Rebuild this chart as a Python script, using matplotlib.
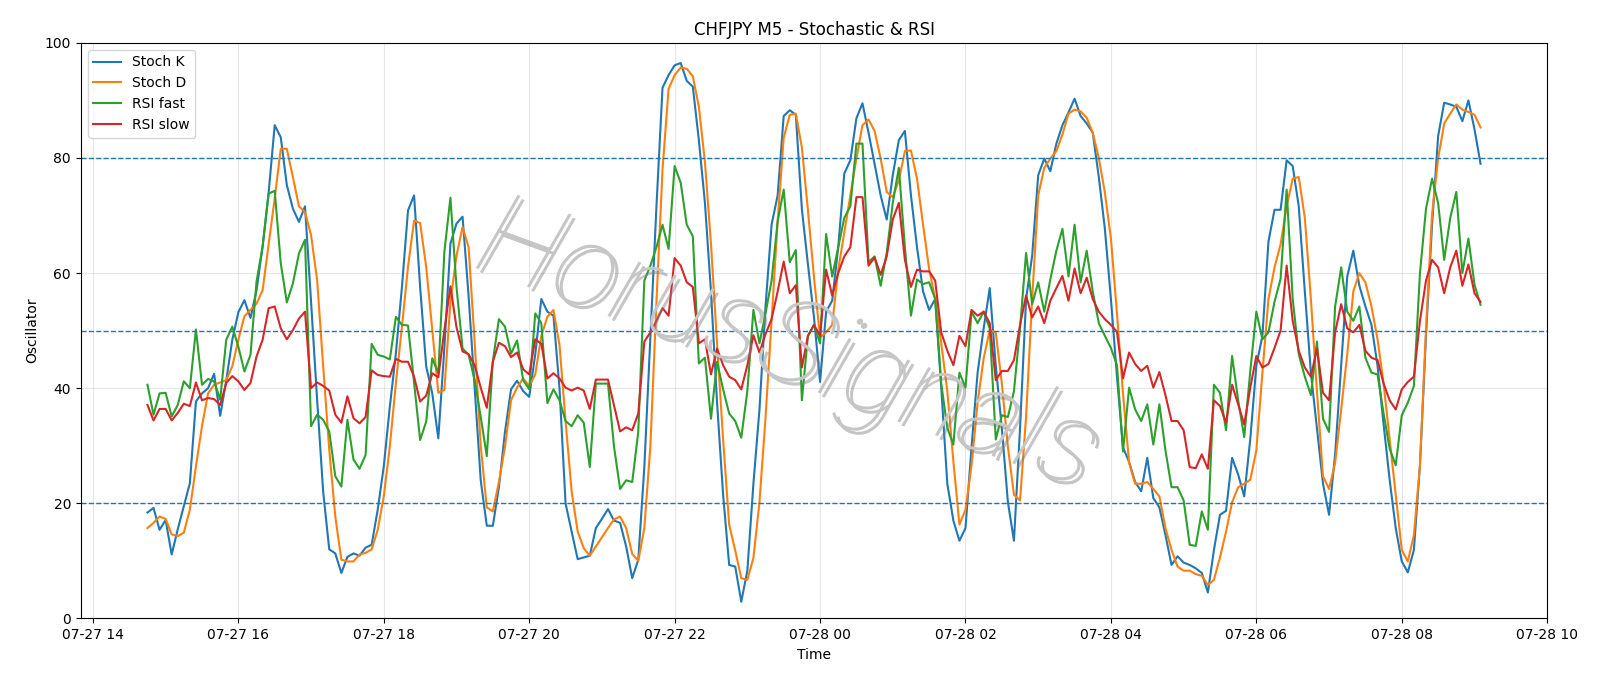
import numpy as np
import pandas as pd
import matplotlib
matplotlib.use('Agg')
import matplotlib.pyplot as plt
import matplotlib.dates as mdates
import matplotlib.patheffects as pe

# 5 minute bars, 07-27 14:45 -> 07-28 09:05
times = pd.date_range('2023-07-27 14:45', periods=221, freq='5min')

stoch_k = [
    18.4, 19.2, 15.4, 17.1, 11.1, 15.5, 19.5, 23.5, 37.7, 39.1,
    40.0, 42.5, 35.2, 41.3, 48.4, 53.2, 55.3, 52.2, 57.0, 64.6,
    74.0, 85.7, 83.6, 75.3, 71.2, 68.9, 71.6, 55.0, 38.0, 22.0,
    12.0, 11.3, 7.9, 10.7, 11.3, 10.9, 12.3, 12.8, 18.9, 26.4,
    36.8, 46.1, 57.6, 70.9, 73.5, 57.6, 43.8, 39.1, 31.3, 47.0,
    65.1, 68.6, 69.8, 56.0, 40.0, 24.0, 16.1, 16.1, 22.8, 32.4,
    39.8, 41.3, 39.5, 38.5, 45.9, 55.5, 53.3, 52.6, 40.0, 20.0,
    15.1, 10.3, 10.6, 10.9, 15.7, 17.3, 19.0, 17.0, 16.6, 12.5,
    7.0, 10.2, 26.3, 49.1, 71.6, 92.2, 94.4, 96.1, 96.5, 93.4,
    92.4, 83.1, 72.2, 56.8, 37.5, 21.5, 9.3, 9.0, 2.9, 8.3,
    23.4, 36.3, 54.2, 68.4, 73.5, 87.3, 88.3, 87.5, 71.1, 61.5,
    52.3, 41.1, 53.3, 55.2, 64.5, 77.3, 79.6, 86.9, 89.5, 84.4,
    78.9, 73.5, 69.3, 77.0, 83.1, 84.7, 73.5, 64.5, 56.8, 53.6,
    55.5, 40.1, 23.4, 17.0, 13.5, 15.7, 29.8, 42.7, 50.4, 57.4,
    43.9, 33.0, 20.2, 13.5, 33.0, 55.5, 63.0, 77.0, 79.9, 77.7,
    82.5, 85.7, 87.9, 90.3, 87.3, 86.0, 84.4, 76.7, 67.7, 55.5,
    42.0, 29.7, 27.2, 23.7, 22.1, 27.9, 20.9, 19.3, 14.5, 9.3,
    10.8, 9.7, 9.3, 8.7, 7.9, 4.5, 11.9, 18.0, 18.7, 27.9,
    25.0, 21.2, 31.2, 43.9, 49.1, 65.5, 71.0, 71.0, 79.6, 78.6,
    71.6, 56.8, 42.7, 33.0, 23.4, 18.0, 28.5, 43.9, 59.4, 63.9,
    57.8, 54.2, 51.0, 43.9, 33.7, 24.1, 15.7, 9.9, 8.0, 11.9,
    26.6, 49.1, 68.4, 83.8, 89.6, 89.3, 88.9, 86.4, 90.0, 85.0,
    79.0,
]

stoch_d = [
    15.7, 16.6, 17.7, 17.3, 14.6, 14.3, 14.9, 18.9, 26.4, 33.4,
    39.1, 40.6, 41.0, 41.4, 43.8, 48.4, 52.5, 53.6, 54.7, 57.0,
    65.0, 73.0, 81.6, 81.6, 76.7, 71.6, 70.6, 66.6, 58.8, 43.8,
    29.3, 17.7, 10.2, 9.9, 9.9, 11.1, 11.4, 12.0, 15.4, 21.2,
    29.9, 40.9, 50.7, 61.1, 69.1, 68.7, 61.1, 50.1, 39.2, 39.7,
    55.0, 63.0, 68.0, 64.5, 48.0, 30.0, 19.3, 18.6, 23.7, 29.8,
    37.9, 40.1, 41.7, 40.4, 42.4, 49.1, 52.4, 53.6, 47.5, 34.3,
    22.1, 15.1, 12.2, 10.9, 12.5, 14.1, 15.7, 17.2, 17.7, 15.7,
    11.2, 10.0, 15.7, 30.0, 55.0, 78.0, 92.0, 94.4, 95.7, 95.5,
    94.2, 88.9, 79.3, 65.1, 47.8, 31.1, 16.3, 11.8, 7.0, 6.7,
    10.5, 20.2, 34.9, 51.7, 69.0, 83.5, 87.5, 87.7, 81.8, 70.9,
    59.3, 48.8, 49.7, 51.0, 60.6, 67.1, 73.5, 79.9, 85.7, 86.7,
    84.7, 79.9, 74.1, 73.2, 76.1, 81.2, 81.3, 76.4, 68.4, 60.7,
    55.5, 47.8, 39.5, 27.3, 16.3, 18.9, 26.6, 37.5, 45.2, 50.1,
    49.7, 40.8, 29.8, 21.5, 20.5, 35.0, 55.5, 73.5, 78.3, 79.9,
    81.2, 84.1, 87.7, 88.4, 88.1, 87.0, 84.4, 80.0, 74.0, 66.0,
    53.0, 39.0, 27.0, 23.4, 23.4, 23.7, 22.5, 21.2, 15.7, 11.9,
    9.0, 8.3, 8.3, 7.7, 7.4, 5.8, 6.7, 10.6, 15.1, 20.2,
    22.8, 23.4, 24.1, 29.2, 42.7, 55.5, 61.0, 65.0, 71.6, 76.4,
    76.7, 69.6, 55.5, 39.5, 24.7, 22.5, 27.0, 36.3, 45.9, 56.8,
    60.0, 58.4, 54.2, 48.5, 40.8, 31.1, 21.5, 11.9, 9.9, 14.5,
    26.6, 50.4, 70.3, 79.9, 86.0, 87.7, 89.3, 88.4, 88.0, 87.5,
    85.3,
]

rsi_fast = [
    40.6, 35.4, 39.1, 39.2, 35.1, 37.1, 41.2, 40.0, 50.2, 40.6,
    41.6, 41.2, 38.0, 48.4, 50.7, 47.2, 42.9, 45.8, 58.5, 64.6,
    73.8, 74.3, 61.7, 54.9, 58.2, 63.4, 65.8, 33.4, 35.4, 34.5,
    32.5, 24.7, 22.9, 34.5, 27.6, 26.0, 28.4, 47.7, 45.8, 45.5,
    45.0, 52.4, 51.0, 50.9, 41.0, 31.0, 34.2, 45.2, 42.6, 63.7,
    73.1, 57.6, 46.9, 45.8, 41.4, 35.0, 28.2, 44.7, 52.0, 50.7,
    46.0, 48.3, 41.4, 39.8, 53.0, 51.3, 37.4, 39.8, 37.9, 34.3,
    33.4, 35.3, 34.0, 26.3, 40.8, 40.8, 40.8, 29.8, 22.5, 24.0,
    23.7, 32.4, 58.7, 61.3, 64.5, 68.4, 64.2, 78.6, 75.7, 68.4,
    66.4, 44.3, 45.3, 34.7, 44.6, 39.8, 35.6, 34.3, 31.4, 39.5,
    53.6, 47.8, 53.0, 58.7, 69.0, 74.5, 61.9, 64.0, 37.9, 49.1,
    51.0, 47.8, 66.8, 59.4, 64.5, 69.6, 71.6, 82.5, 82.5, 61.9,
    62.9, 57.8, 63.5, 72.2, 78.3, 64.5, 52.6, 58.9, 58.1, 58.4,
    55.5, 40.8, 33.1, 30.2, 42.7, 40.1, 53.3, 51.3, 53.3, 50.4,
    31.1, 35.3, 35.0, 39.5, 50.4, 63.5, 54.6, 58.4, 53.3, 58.9,
    63.9, 67.7, 59.4, 68.4, 58.4, 63.9, 56.8, 51.3, 49.1, 47.0,
    44.0, 29.0, 40.1, 36.3, 34.3, 37.2, 30.2, 37.2, 29.2, 22.8,
    22.8, 20.5, 12.8, 12.6, 18.6, 15.4, 40.6, 39.2, 32.7, 45.6,
    37.9, 31.5, 43.0, 53.3, 48.5, 49.7, 55.0, 59.0, 74.5, 55.5,
    45.9, 42.0, 38.8, 48.1, 34.7, 32.4, 54.2, 61.0, 53.3, 51.7,
    54.2, 45.3, 42.7, 42.4, 35.6, 29.5, 26.6, 35.3, 37.5, 40.4,
    60.0, 71.2, 76.4, 72.2, 62.3, 69.6, 74.1, 60.0, 66.0, 58.0,
    54.5,
]

rsi_slow = [
    37.1, 34.4, 36.4, 36.4, 34.4, 35.7, 37.3, 36.9, 41.0, 37.9,
    38.3, 38.1, 37.1, 40.9, 42.1, 41.2, 39.7, 40.9, 45.5, 48.4,
    53.9, 54.2, 50.4, 48.5, 50.1, 52.1, 53.3, 40.0, 41.0, 40.4,
    39.6, 35.4, 34.0, 38.6, 34.8, 33.9, 35.0, 43.1, 42.3, 42.1,
    42.0, 45.1, 44.6, 44.6, 42.0, 37.7, 38.7, 42.6, 41.9, 50.1,
    57.7, 50.6, 46.4, 45.9, 44.0, 40.1, 36.6, 44.6, 47.9, 47.3,
    45.4, 46.2, 43.3, 42.4, 48.5, 47.7, 41.7, 42.6, 41.7, 40.1,
    39.6, 40.1, 39.6, 36.4, 41.5, 41.5, 41.5, 37.0, 32.5, 33.2,
    32.7, 35.6, 48.1, 49.7, 51.7, 53.9, 52.6, 62.6, 61.3, 58.4,
    57.6, 47.8, 48.5, 42.4, 46.9, 44.0, 42.0, 41.4, 39.8, 44.0,
    49.2, 46.2, 49.4, 52.0, 56.8, 62.0, 56.5, 57.9, 43.6, 49.1,
    51.0, 49.1, 60.6, 56.1, 60.0, 62.9, 64.5, 73.2, 73.2, 61.3,
    62.7, 59.7, 62.9, 69.3, 72.2, 62.3, 57.6, 60.6, 60.3, 60.3,
    58.7, 49.7, 46.5, 44.0, 49.1, 47.3, 53.6, 52.6, 53.3, 51.3,
    41.4, 43.0, 43.0, 44.9, 51.0, 56.1, 52.3, 54.2, 51.3, 55.2,
    57.4, 59.5, 55.2, 60.8, 56.5, 59.2, 55.5, 53.3, 52.0, 51.0,
    49.8, 41.7, 46.2, 44.2, 43.0, 43.9, 40.1, 42.8, 38.8, 34.3,
    34.3, 32.7, 26.3, 26.1, 28.5, 26.0, 37.9, 36.9, 34.0, 40.6,
    37.2, 33.7, 40.1, 45.6, 43.6, 44.2, 47.0, 50.0, 61.3, 51.7,
    46.5, 43.6, 42.0, 46.9, 39.2, 37.9, 49.7, 54.6, 50.4, 49.7,
    51.0, 46.5, 45.3, 44.9, 40.8, 37.9, 36.3, 39.8, 41.1, 42.0,
    51.7, 58.7, 62.3, 61.0, 56.5, 61.0, 63.9, 57.8, 61.5, 56.5,
    55.0,
]

levels = [20, 50, 80]

fig = plt.figure(figsize=(16, 6.86), dpi=100)
ax = fig.add_axes([0.0505, 0.0985, 0.9165, 0.839])

ax.plot(times, stoch_k, label='Stoch K')
ax.plot(times, stoch_d, label='Stoch D')
ax.plot(times, rsi_fast, label='RSI fast')
ax.plot(times, rsi_slow, label='RSI slow')
for lv in levels:
    ax.axhline(lv, color='#1f77b4', linestyle='--', linewidth=1)

ax.set_ylim(0, 100)
ax.xaxis.set_major_locator(mdates.HourLocator(byhour=range(0, 24, 2)))
ax.xaxis.set_major_formatter(mdates.DateFormatter('%m-%d %H'))
ax.grid(True, alpha=0.3)
ax.set_title('CHFJPY M5 - Stochastic & RSI')
ax.set_xlabel('Time')
ax.set_ylabel('Oscillator')
ax.legend(loc='upper left')

# watermark
ax.text(0.482, 0.47, 'HorusSignals', transform=ax.transAxes, fontsize=84,
        family=['Roboto', 'DejaVu Sans'], fontweight='light', style='italic',
        color='#c6c6c6', rotation=-20, ha='center', va='center', zorder=5,
        path_effects=[pe.withSimplePatchShadow(offset=(3, -3), shadow_rgbFace='#808080', alpha=0.45)])

fig.savefig('out.png', dpi=100)
